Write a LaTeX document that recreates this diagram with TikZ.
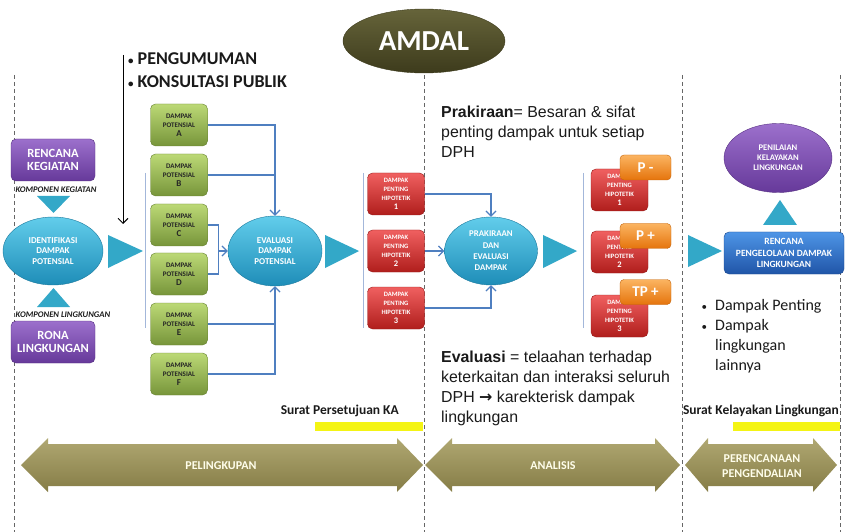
\documentclass[tikz,border=0pt]{standalone}
\usepackage{fontspec}
\setmainfont{Carlito}
\newfontfamily\arialfont{Liberation Sans}
\newfontfamily\arrowfont{DejaVu Sans}
\usetikzlibrary{shapes.geometric,arrows.meta}

\definecolor{greenA}{HTML}{BCD976}
\definecolor{greenB}{HTML}{77953A}
\definecolor{redA}{HTML}{F06060}
\definecolor{redB}{HTML}{B01E1C}
\definecolor{cyanA}{HTML}{62CDEB}
\definecolor{cyanB}{HTML}{1E8DB8}
\definecolor{triblue}{HTML}{33A8C8}
\definecolor{purpA}{HTML}{9C70CC}
\definecolor{purpB}{HTML}{66399A}
\definecolor{orangeA}{HTML}{FBB461}
\definecolor{orangeB}{HTML}{E5740C}
\definecolor{blueA}{HTML}{4E95E6}
\definecolor{blueB}{HTML}{2055A8}
\definecolor{oliveA}{HTML}{B0A872}
\definecolor{oliveB}{HTML}{857C46}
\definecolor{amdalA}{HTML}{66643A}
\definecolor{amdalB}{HTML}{3D3B1C}
\definecolor{linkblue}{HTML}{4F7FC0}
\definecolor{railblue}{HTML}{A3B7DA}
\definecolor{marker}{HTML}{F4F414}
\definecolor{ink}{HTML}{1A1A1A}

\newcommand{\smallbullet}{{\fontsize{11}{11}\selectfont•}}

\tikzset{
  box/.style={rounded corners=5pt, inner sep=0pt, align=center},
  dpot/.style={box, top color=greenA, bottom color=greenB, draw=greenB!85!black,
    minimum width=57pt, minimum height=42pt, text=black!85,
    font=\fontsize{7}{9.2}\selectfont\bfseries},
  dph/.style={box, top color=redA, bottom color=redB, draw=redB!85!black,
    minimum width=57pt, minimum height=42pt, text=white,
    font=\fontsize{6.6}{8.8}\selectfont\bfseries},
  tag/.style={box, rounded corners=4pt, top color=orangeA, bottom color=orangeB,
    draw=orangeB!85!black, minimum width=51pt, minimum height=25pt, text=white,
    font=\fontsize{15}{16}\selectfont\bfseries},
  purplebox/.style={box, top color=purpA, bottom color=purpB, draw=purpB!85!black,
    minimum width=84pt, minimum height=42pt, text=white,
    font=\fontsize{12.5}{13}\selectfont\bfseries},
  oval/.style={ellipse, inner sep=0pt, align=center, top color=cyanA, bottom color=cyanB,
    draw=cyanB!85!black, text=white, font=\fontsize{9}{10.6}\selectfont\bfseries},
  tri/.style={fill=triblue},
  conn/.style={draw=linkblue, line width=1.2pt},
  arr/.style={conn, -{Straight Barb[length=5pt,width=10pt]}},
  rail/.style={draw=railblue, line width=1pt},
  guide/.style={draw=black!60, line width=0.6pt, dash pattern=on 4pt off 3pt},
  stagebar/.style={top color=oliveA, bottom color=oliveB},
  stagetext/.style={align=center, text=white!92!yellow,
    font=\fontsize{12}{15}\selectfont\bfseries},
  surat/.style={inner sep=0pt, text=ink, font=\fontsize{13.5}{15}\selectfont\bfseries},
  note/.style={inner sep=0pt, align=left, text=ink,
    font=\arialfont\fontsize{15.9}{20}\selectfont},
  komp/.style={inner sep=0pt, text=ink, font=\fontsize{8.6}{9}\selectfont\bfseries\itshape}
}

\begin{document}
\begin{tikzpicture}[x=1pt, y=-1pt]
  \useasboundingbox (0,0) rectangle (847,532);
  % phase borders
  \foreach \x in {14,424,682,840} \draw[guide] (\x,75) -- (\x,532);

  \node[ellipse, inner sep=0pt, minimum width=162pt, minimum height=64pt,
    top color=amdalA, bottom color=amdalB, draw=amdalB,
    text=white, font=\fontsize{29}{30}\selectfont\bfseries] (amdal) at (424,41) {AMDAL};

  % public consultation
  \node[inner sep=0pt, anchor=north west, align=left, text=ink,
    font=\fontsize{18}{23}\selectfont\bfseries] (publik) at (128,52)
    {\smallbullet\ PENGUMUMAN\\\smallbullet\ KONSULTASI PUBLIK};
  \coordinate (pubtop) at (123,55); \coordinate (pubbot) at (123,224);
  \draw[line width=1pt, -{Straight Barb[length=5pt,width=10pt]}] (pubtop) -- (pubbot);

  % inputs
  \node[purplebox] (rencana) at (53,160) {RENCANA\\KEGIATAN};
  \node[komp] (kompkeg) at (56,190) {KOMPONEN KEGIATAN};
  \fill[tri] (37,196) -- (70,196) -- (53.5,213) -- cycle;
  \node[oval, minimum width=100pt, minimum height=68pt] (ident) at (53,251)
    {IDENTIFIKASI\\DAMPAK\\POTENSIAL};
  \fill[tri] (37,307) -- (70,307) -- (53.5,288) -- cycle;
  \node[komp] (komplin) at (63,315) {KOMPONEN LINGKUNGAN};
  \node[purplebox] (rona) at (53,342) {RONA\\LINGKUNGAN};
  \fill[tri] (108,235) -- (143,251) -- (108,268) -- cycle;

  % potential impacts
  \foreach \x in {145,363,583} \draw[rail] (\x,173) -- (\x,328);
  \foreach \k/\y in {A/125,B/175,C/225,D/274,E/324,F/374}
    \node[dpot] (dp\k) at (179,\y) {DAMPAK\\POTENSIAL\\{\fontsize{9}{10}\selectfont\k}};
  \node[oval, minimum width=94pt, minimum height=70pt] (evpot) at (275,251)
    {EVALUASI\\DAMPAK\\POTENSIAL};
  \draw[arr] (dpA.east) -| (evpot.north);
  \draw[conn] (dpB.east) -- (dpB.east -| evpot.north);
  \draw[conn] (dpC.east) -- ++(11,0) coordinate (cd) |- (dpD.east);
  \draw[arr] (cd |- evpot.west) -- (evpot.west);
  \draw[arr] (dpF.east) -| (evpot.south);
  \draw[conn] (dpE.east) -- (dpE.east -| evpot.south);
  \fill[tri] (325,235) -- (359,251) -- (325,268) -- cycle;

  % hypothetical impacts
  \foreach \n/\y in {1/194,2/251,3/308}
    \node[dph] (hA\n) at (396,\y) {DAMPAK\\PENTING\\HIPOTETIK\\{\fontsize{8.5}{9}\selectfont\n}};
  \node[oval, minimum width=93pt, minimum height=68pt,
    font=\fontsize{8.8}{11.3}\selectfont\bfseries] (prak) at (491,251)
    {PRAKIRAAN\\DAN\\EVALUASI\\DAMPAK};
  \draw[arr] (hA1.east) -| (prak.north);
  \draw[arr] (hA2.east) -- (prak.west);
  \draw[arr] (hA3.east) -| (prak.south);
  \fill[tri] (543,235) -- (577,251) -- (543,268) -- cycle;

  \foreach \n/\y in {1/190,2/252,3/316}
    \node[dph] (hB\n) at (619.5,\y) {DAMPAK\\PENTING\\HIPOTETIK\\{\fontsize{8.5}{9}\selectfont\n}};
  \node[tag] (tagPmin) at (645.5,167.5) {P -};
  \node[tag] (tagPplus) at (645.5,236) {P +};
  \node[tag] (tagTP) at (645.5,292) {TP +};

  \node[note, anchor=north west] (prakdef) at (441,106)
    {\textbf{Prakiraan}= Besaran \& sifat\\penting dampak untuk setiap\\DPH};
  \node[note, anchor=north west] (evaldef) at (441,351)
    {\textbf{Evaluasi} = telaahan terhadap\\keterkaitan dan interaksi seluruh\\DPH {\arrowfont\bfseries →} karekterisk dampak\\lingkungan};

  % management plan
  \fill[tri] (688,235) -- (722,251) -- (688,267) -- cycle;
  \node[box, minimum width=120pt, minimum height=42pt, top color=blueA, bottom color=blueB,
    draw=blueB!85!black, text=white, font=\fontsize{9.5}{11.7}\selectfont\bfseries]
    (rpl) at (784,253) {RENCANA\\PENGELOLAAN DAMPAK\\LINGKUNGAN};
  \fill[tri] (763,225) -- (797,225) -- (780,200) -- cycle;
  \node[oval, minimum width=108pt, minimum height=69pt, top color=purpA, bottom color=purpB,
    draw=purpB!85!black, font=\fontsize{8.6}{10}\selectfont\bfseries]
    (kelayakan) at (778,158) {PENILAIAN\\KELAYAKAN\\LINGKUNGAN};
  \node[inner sep=0pt, anchor=north west, align=left, text=ink,
    font=\fontsize{16}{20}\selectfont] (dampaklist) at (715,299)
    {\llap{\smallbullet\hspace{8pt}}Dampak Penting\\\llap{\smallbullet\hspace{8pt}}Dampak\\lingkungan\\lainnya};

  % letters
  \node[surat, anchor=east] (suratKA) at (399,411) {Surat Persetujuan KA};
  \fill[marker] (315,422) rectangle (423,431);
  \node[surat, anchor=east] (suratKL) at (839,411) {Surat Kelayakan Lingkungan};
  \fill[marker] (733,422) rectangle (840,431);

  % phases
  \foreach \a/\b/\c/\d/\m/\t/\s in {21/48/397/423/221/PELINGKUPAN/lingkup,
      425/452/655/680/553/ANALISIS/analisis,
      685/708/813/837/762/{PERENCANAAN\\PENGENDALIAN}/rencana} {
    \shade[stagebar] (\a,465) -- (\b,438) -- (\b,444) -- (\c,444) -- (\c,438) -- (\d,465)
      -- (\c,492) -- (\c,486) -- (\b,486) -- (\b,492) -- cycle;
    \node[stagetext] (stage-\s) at (\m,466) {\t};
  }
\end{tikzpicture}
\end{document}
